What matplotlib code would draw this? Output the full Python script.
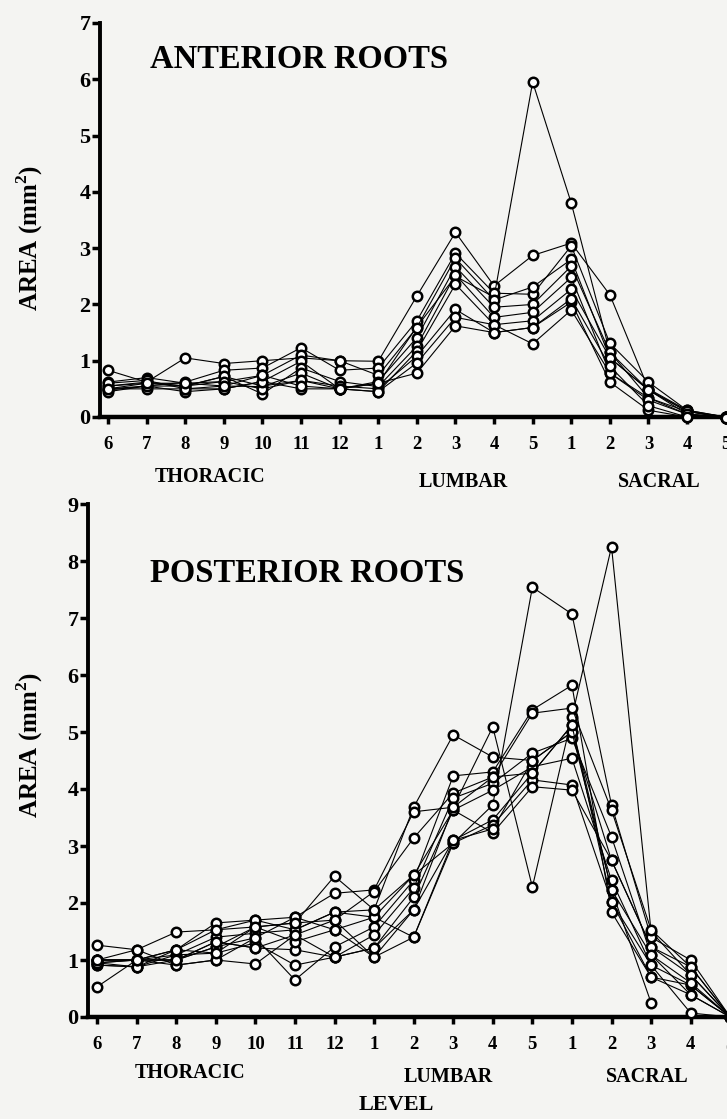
import matplotlib.pyplot as plt
import numpy as np

plt.rcParams["font.family"] = ["Liberation Serif", "DejaVu Serif"]
plt.rcParams["font.weight"] = "bold"
plt.rcParams["mathtext.fontset"] = "custom"
plt.rcParams["mathtext.rm"] = "Liberation Serif:bold"
plt.rcParams["mathtext.bf"] = "Liberation Serif:bold"

# spinal levels: thoracic 6-12, lumbar 1-5, sacral 1-5
LEVELS = ["6", "7", "8", "9", "10", "11", "12",
          "1", "2", "3", "4", "5",
          "1", "2", "3", "4", "5"]

# anterior root area (mm^2), one list per specimen
ANTERIOR = [
    [0.83, 0.62, 1.05, 0.95, 1.00, 1.05, 1.00, 0.99, 2.15, 3.28, 2.33, 2.87, 3.09, 2.17, 0.50, 0.12, 0.00],
    [0.55, 0.60, 0.55, 0.72, 0.55, 0.65, 0.50, 0.60, 1.60, 2.50, 2.13, 5.95, 3.80, 1.15, 0.34, 0.10, 0.00],
    [0.50, 0.55, 0.62, 0.83, 0.87, 1.23, 0.83, 0.87, 1.71, 2.91, 2.20, 2.18, 3.04, 1.31, 0.62, 0.12, 0.00],
    [0.62, 0.70, 0.60, 0.63, 0.74, 1.10, 1.00, 0.74, 1.59, 2.82, 2.08, 2.31, 2.80, 1.05, 0.48, 0.10, -0.02],
    [0.48, 0.55, 0.45, 0.50, 0.63, 0.99, 0.50, 0.63, 1.41, 2.67, 1.95, 2.00, 2.68, 1.15, 0.48, 0.05, 0.00],
    [0.55, 0.62, 0.55, 0.72, 0.41, 0.87, 0.63, 0.54, 1.26, 2.53, 1.77, 1.86, 2.48, 0.78, 0.34, 0.05, -0.02],
    [0.50, 0.50, 0.50, 0.55, 0.54, 0.78, 0.50, 0.45, 1.17, 2.36, 1.64, 1.71, 2.27, 1.05, 0.48, 0.10, 0.00],
    [0.45, 0.55, 0.55, 0.63, 0.50, 0.65, 0.55, 0.50, 1.08, 1.91, 1.50, 1.59, 2.04, 0.62, 0.12, 0.00, -0.02],
    [0.60, 0.65, 0.50, 0.50, 0.63, 0.50, 0.50, 0.45, 0.96, 1.77, 1.64, 1.30, 1.90, 0.78, 0.30, 0.05, 0.00],
    [0.50, 0.60, 0.60, 0.55, 0.74, 0.55, 0.50, 0.60, 0.78, 1.62, 1.50, 1.59, 2.10, 0.90, 0.20, 0.00, -0.02],
]

# posterior root area (mm^2), one list per specimen
POSTERIOR = [
    [1.26, 1.18, 1.49, 1.53, 1.58, 1.65, 2.47, 1.88, 3.68, 4.95, 4.56, 4.50, 5.00, 2.75, 1.23, 0.88, 0.00],
    [1.00, 1.00, 1.18, 1.65, 1.70, 1.75, 2.17, 2.23, 3.60, 3.68, 5.09, 2.28, 5.26, 8.25, 1.50, 0.74, 0.00],
    [0.95, 0.88, 1.09, 1.40, 1.47, 1.53, 1.84, 1.75, 2.49, 3.05, 3.72, 7.54, 7.07, 3.72, 1.40, 1.00, 0.00],
    [0.53, 1.00, 1.00, 1.23, 1.39, 0.65, 1.23, 1.58, 2.40, 4.23, 4.30, 5.39, 5.82, 1.84, 0.70, 0.56, 0.00],
    [1.00, 1.00, 0.91, 1.00, 0.93, 1.44, 1.70, 2.20, 3.14, 3.93, 4.21, 5.33, 5.42, 3.63, 1.53, 0.88, 0.00],
    [0.91, 0.88, 1.00, 1.32, 1.21, 1.18, 1.05, 1.44, 2.26, 3.84, 4.10, 4.63, 4.89, 3.16, 1.09, 0.39, 0.00],
    [1.00, 1.00, 1.09, 1.12, 1.30, 0.91, 1.05, 1.21, 2.10, 3.63, 3.98, 4.39, 4.54, 2.40, 0.91, 0.07, 0.00],
    [0.95, 1.00, 1.00, 1.23, 1.58, 1.32, 1.53, 1.05, 1.88, 3.10, 3.46, 4.28, 5.12, 2.23, 0.25, np.nan, np.nan],
    [1.00, 1.18, 0.91, 1.00, 1.39, 1.75, 1.53, 1.75, 1.40, 3.05, 3.37, 4.16, 4.07, 2.02, 0.91, 0.56, 0.00],
    [0.91, 0.88, 1.18, 1.53, 1.70, 1.53, 1.84, 1.88, 2.49, 3.63, 3.23, 4.04, 3.98, 2.75, 1.23, 0.74, 0.00],
    [0.95, 1.00, 1.18, 1.12, 1.58, 1.65, 1.70, 1.05, 1.40, 3.10, 3.30, 4.50, 5.00, 2.23, 1.09, 0.60, 0.00],
    [1.00, 1.00, 1.00, 1.32, 1.21, 1.44, 1.05, 1.21, 1.88, 3.68, 4.21, 4.28, 5.12, 2.02, 0.70, 0.39, 0.00],
]

W, H = 727, 1119
BG = "#f4f4f2"


def draw_panel(ax, series, ymax, title, xleft, title_pos):
    x = np.arange(len(LEVELS))
    for s in series:
        ax.plot(x, s, "-o", color="black", lw=0.8, ms=6.8, mfc="white",
                mec="black", mew=1.8, clip_on=False, zorder=3)
    ax.set_xlim(xleft, 16.5)
    ax.set_ylim(0, ymax)
    ax.set_facecolor("none")
    for side in ("top", "right"):
        ax.spines[side].set_visible(False)
    ax.spines["left"].set_linewidth(2.8)
    ax.spines["bottom"].set_linewidth(3.2)
    ax.spines["left"].set_bounds(0, ymax)
    ax.set_xticks(x)
    ax.set_xticklabels(LEVELS, fontsize=13.5, fontweight="bold")
    ax.set_yticks(range(ymax + 1))
    ax.set_yticklabels([str(v) for v in range(ymax + 1)], fontsize=16, fontweight="bold")
    ax.tick_params(axis="x", length=5, width=2.5, pad=9, direction="out")
    ax.tick_params(axis="y", length=6, width=2.5, pad=1, direction="out")
    ax.text(title_pos[0], title_pos[1], title, transform=ax.transAxes, fontsize=23.5,
            fontweight="bold", ha="left", va="center")


fig = plt.figure(figsize=(W / 100, H / 100), dpi=100, facecolor=BG)

# top panel: anterior roots
ax1 = fig.add_axes([100 / W, (H - 417) / H, 645 / W, 394 / H])
draw_panel(ax1, ANTERIOR, 7, "ANTERIOR ROOTS", -0.207,
           ((150 - 100) / 645, (417 - 60) / 394))

# bottom panel: posterior roots
ax2 = fig.add_axes([88 / W, (H - 1017) / H, 662 / W, 513 / H])
draw_panel(ax2, POSTERIOR, 9, "POSTERIOR ROOTS", -0.23,
           ((150 - 88) / 662, (1017 - 573) / 513))

# region labels under the level numbers
for cx, cy, txt in [(210, 477, "THORACIC"), (463, 482, "LUMBAR"), (659, 482, "SACRAL"),
                    (190, 1073, "THORACIC"), (448, 1077, "LUMBAR"), (647, 1077, "SACRAL")]:
    fig.text(cx / W, 1 - cy / H, txt, fontsize=14.5, fontweight="bold",
             ha="center", va="center")
fig.text(396 / W, 1 - 1105 / H, "LEVEL", fontsize=16, fontweight="bold",
         ha="center", va="center")

ylab = r"AREA (mm$^{\mathbf{2}}$)"
fig.text(30 / W, 1 - 238 / H, ylab, fontsize=18, fontweight="bold",
         rotation=90, ha="center", va="center")
fig.text(30 / W, 1 - 745 / H, ylab, fontsize=18, fontweight="bold",
         rotation=90, ha="center", va="center")

fig.savefig("out.png", dpi=100, facecolor=BG)
